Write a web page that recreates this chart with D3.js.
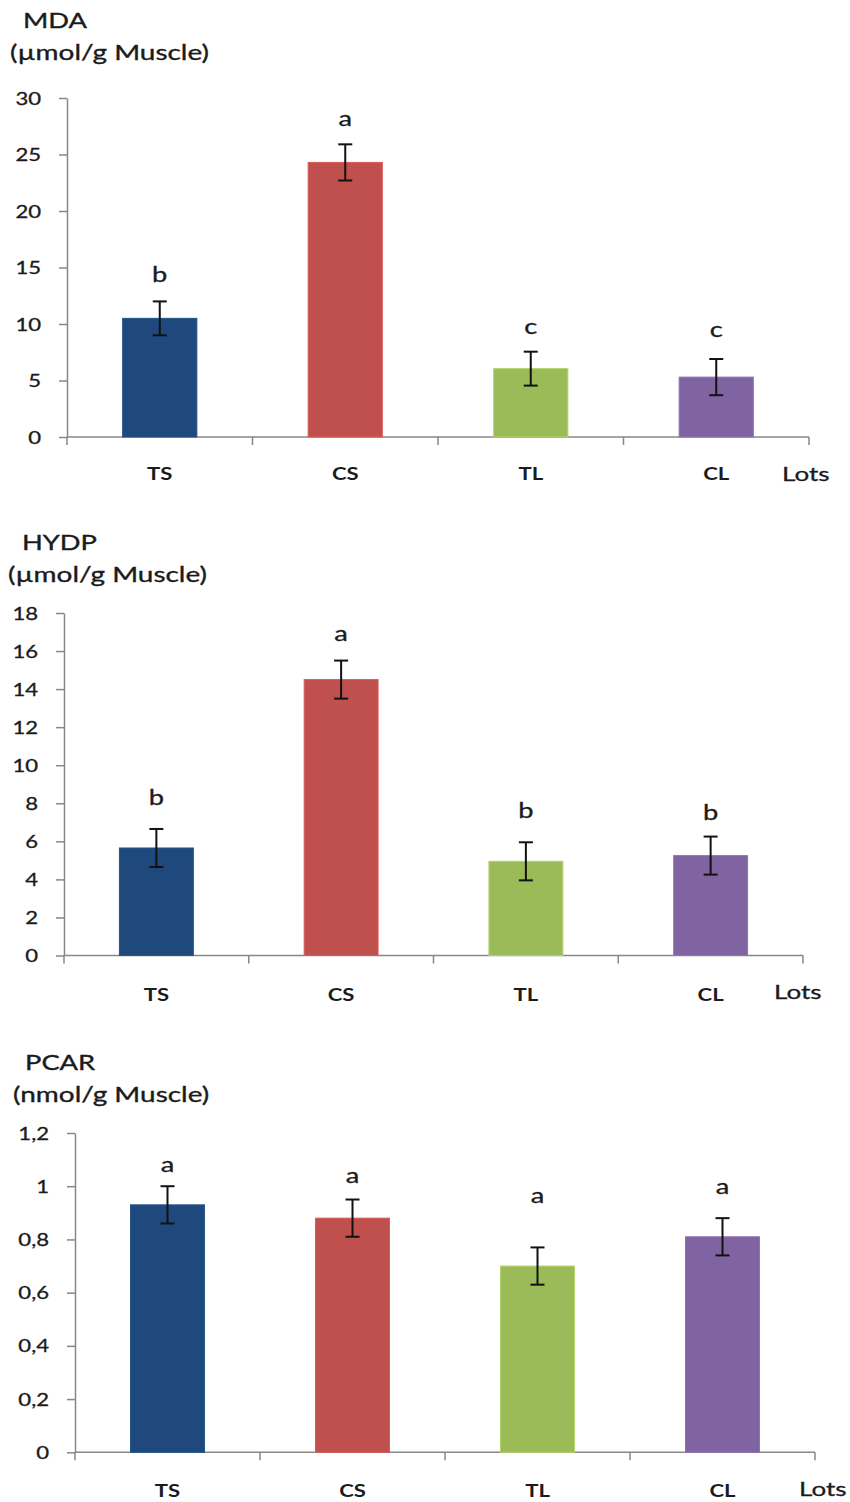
<!DOCTYPE html>
<html>
<head>
<meta charset="utf-8">
<script src="https://cdn.jsdelivr.net/npm/d3@7"></script>
<style>
  html, body { margin: 0; padding: 0; background: #fff; }
  svg { display: block; }
  text { font-family: Lato, "Open Sans", sans-serif; fill: #1b1b1b; }
</style>
</head>
<body>
<svg id="chart" width="850" height="1502"></svg>
<script>
// Groups (lots) and their bar colours
const categories = ["TS", "CS", "TL", "CL"];
const barColors = ["#1F497D", "#C0504D", "#9BBB59", "#8064A2"];

// Malondialdehyde
const mdaValues = [10.5, 24.3, 6.05, 5.3];
const mdaErrors = [1.5, 1.6, 1.5, 1.6];
const mdaLetters = ["b", "a", "c", "c"];
const mdaTicks = [0, 5, 10, 15, 20, 25, 30];

// Hydroperoxides
const hydpValues = [5.65, 14.5, 4.95, 5.25];
const hydpErrors = [1.0, 1.0, 1.0, 1.0];
const hydpLetters = ["b", "a", "b", "b"];
const hydpTicks = [0, 2, 4, 6, 8, 10, 12, 14, 16, 18];

// Protein carbonyls
const pcarValues = [0.93, 0.88, 0.70, 0.81];
const pcarErrors = [0.07, 0.07, 0.07, 0.07];
const pcarLetters = ["a", "a", "a", "a"];
const pcarTicks = [0, 0.2, 0.4, 0.6, 0.8, 1, 1.2];

const axisLabel = "Lots";

// Layout of each panel (pixels)
const panels = [
  { title: "MDA", unit: "(µmol/g Muscle)", values: mdaValues, errors: mdaErrors, letters: mdaLetters, ticks: mdaTicks,
    left: 67, right: 809, top: 98, bottom: 437,
    titleX: 23, titleY: 28, unitX: 10, unitY: 60,
    letterGap: [19, 18, 18, 22], catDy: 43, lotsX: 782, lotsDy: 44 },
  { title: "HYDP", unit: "(µmol/g Muscle)", values: hydpValues, errors: hydpErrors, letters: hydpLetters, ticks: hydpTicks,
    left: 64, right: 803, top: 613, bottom: 955.5,
    titleX: 22, titleY: 550, unitX: 8, unitY: 582,
    letterGap: [24, 20, 24, 17], catDy: 45, lotsX: 774, lotsDy: 43 },
  { title: "PCAR", unit: "(nmol/g Muscle)", values: pcarValues, errors: pcarErrors, letters: pcarLetters, ticks: pcarTicks,
    left: 75, right: 815, top: 1133, bottom: 1452.3,
    titleX: 25, titleY: 1070, unitX: 13, unitY: 1101.5,
    letterGap: [14, 17, 44, 24], catDy: 45, lotsX: 799, lotsDy: 44 }
];

const SX = 1.3;            // horizontal stretch applied to all text
const AXIS = "#878787";
const fmt = d3.formatLocale({ decimal: ",", thousands: " ", grouping: [3], currency: ["", "€"] }).format("~g");

const svg = d3.select("#chart");

function label(g, x, y, str, opts = {}) {
  return g.append("text")
    .attr("transform", `translate(${x},${y}) scale(${SX},1)`)
    .attr("text-anchor", opts.anchor || "start")
    .style("font-size", (opts.size || 18) + "px")
    .style("font-weight", opts.weight || 400)
    .style("stroke", opts.halo ? "#1b1b1b" : null)
    .style("stroke-width", opts.halo ? opts.halo : null)
    .text(str);
}

panels.forEach(p => {
  const g = svg.append("g");
  const yMax = p.ticks[p.ticks.length - 1];

  const x = d3.scaleBand().domain(categories).range([p.left, p.right])
    .paddingInner(0.6).paddingOuter(0.3);
  const y = d3.scaleLinear().domain([0, yMax]).range([p.bottom, p.top]);

  // titles
  label(g, p.titleX, p.titleY, p.title, { size: 21, halo: 0.35 });
  label(g, p.unitX, p.unitY, p.unit, { size: 21.5, halo: 0.35 });

  // y axis
  const yAxis = g.append("g")
    .attr("transform", `translate(${p.left},0)`)
    .call(d3.axisLeft(y).tickValues(p.ticks).tickSize(8).tickSizeOuter(0).tickFormat(fmt));
  yAxis.select(".domain").attr("stroke", AXIS).attr("stroke-width", 1.5);
  yAxis.selectAll(".tick line").attr("stroke", AXIS).attr("stroke-width", 1.5);
  yAxis.selectAll(".tick text")
    .attr("x", null).attr("dy", null)
    .attr("transform", `translate(-26,6) scale(${SX},1)`)
    .attr("text-anchor", "end")
    .style("font-family", "Lato, sans-serif")
    .style("font-size", "17px")
    .style("stroke", "#1b1b1b").style("stroke-width", 0.3)
    .attr("fill", "#1b1b1b");

  // x axis: baseline with ticks at the band boundaries
  const bounds = d3.range(categories.length + 1).map(i => p.left + i * x.step());
  g.append("line")
    .attr("x1", p.left).attr("x2", p.right)
    .attr("y1", p.bottom).attr("y2", p.bottom)
    .attr("stroke", AXIS).attr("stroke-width", 1.5);
  g.selectAll(".xtick").data(bounds).join("line")
    .attr("class", "xtick")
    .attr("x1", d => d).attr("x2", d => d)
    .attr("y1", p.bottom).attr("y2", p.bottom + 8)
    .attr("stroke", AXIS).attr("stroke-width", 1.5);

  // bars
  g.selectAll(".bar").data(categories).join("rect")
    .attr("class", "bar")
    .attr("x", c => x(c))
    .attr("width", x.bandwidth())
    .attr("y", (c, i) => y(p.values[i]))
    .attr("height", (c, i) => y(0) - y(p.values[i]))
    .attr("fill", (c, i) => barColors[i])
    .attr("stroke", (c, i) => d3.color(barColors[i]).brighter(0.35))
    .attr("stroke-width", 1);

  // error bars
  const cx = c => x(c) + x.bandwidth() / 2;
  categories.forEach((c, i) => {
    const hi = y(p.values[i] + p.errors[i]);
    const lo = y(p.values[i] - p.errors[i]);
    const eg = g.append("g").attr("stroke", "#111").attr("stroke-width", 2);
    eg.append("line").attr("x1", cx(c)).attr("x2", cx(c)).attr("y1", hi).attr("y2", lo);
    eg.append("line").attr("x1", cx(c) - 7).attr("x2", cx(c) + 7).attr("y1", hi).attr("y2", hi);
    eg.append("line").attr("x1", cx(c) - 7).attr("x2", cx(c) + 7).attr("y1", lo).attr("y2", lo);

    // significance letter
    label(g, cx(c), hi - p.letterGap[i], p.letters[i], { size: 21, anchor: "middle", halo: 0.3 });

    // category label
    label(g, cx(c), p.bottom + p.catDy, c, { size: 17, anchor: "middle", weight: 700 });
  });

  label(g, p.lotsX, p.bottom + p.lotsDy, axisLabel, { size: 20, halo: 0.3 });
});
</script>
</body>
</html>
